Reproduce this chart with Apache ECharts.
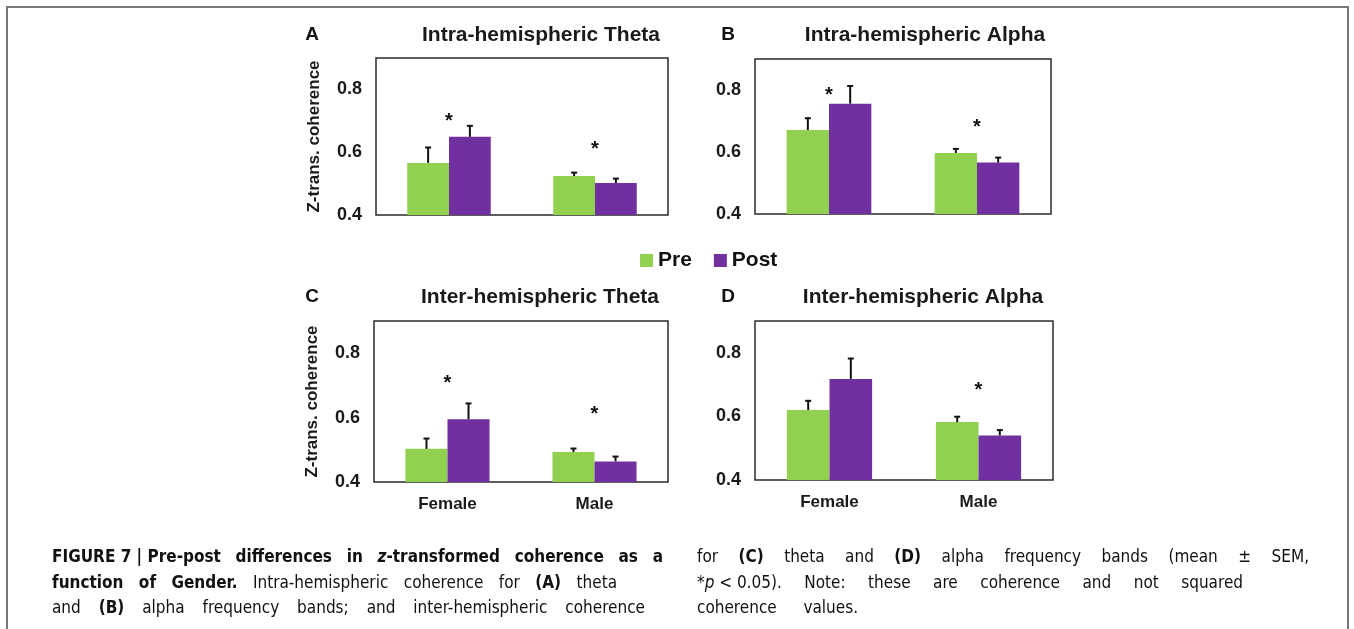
<!DOCTYPE html>
<html>
<head>
<meta charset="utf-8">
<script src="https://cdn.jsdelivr.net/npm/echarts@6/dist/echarts.min.js"></script>
<style>
html,body{margin:0;padding:0;background:#fff;}
#chart{width:1354px;height:629px;}
</style>
</head>
<body>
<div id="chart"></div>
<script>
// ---------------- DATA ----------------
const categories = ['Female', 'Male'];
const seriesNames = ['Pre', 'Post'];
const yTicks = [0.4, 0.6, 0.8];

const panelTitles = ['Intra-hemispheric Theta', 'Intra-hemispheric Alpha', 'Inter-hemispheric Theta', 'Inter-hemispheric Alpha'];
const panelLetters = ['A', 'B', 'C', 'D'];
const yAxisName = 'Z-trans. coherence';

// means
const intraThetaPre  = [0.566, 0.524];
const intraThetaPost = [0.649, 0.502];
const intraAlphaPre  = [0.671, 0.597];
const intraAlphaPost = [0.756, 0.566];
const interThetaPre  = [0.503, 0.493];
const interThetaPost = [0.595, 0.464];
const interAlphaPre  = [0.620, 0.582];
const interAlphaPost = [0.718, 0.540];

// SEM (upper error bar length)
const intraThetaPreSem  = [0.049, 0.011];
const intraThetaPostSem = [0.035, 0.014];
const intraAlphaPreSem  = [0.038, 0.013];
const intraAlphaPostSem = [0.057, 0.016];
const interThetaPreSem  = [0.032, 0.011];
const interThetaPostSem = [0.049, 0.015];
const interAlphaPreSem  = [0.029, 0.017];
const interAlphaPostSem = [0.064, 0.017];

// significance asterisk heights (null = none)
const intraThetaStar = [0.714, 0.623];
const intraAlphaStar = [0.799, 0.696];
const interThetaStar = [0.721, 0.624];
const interAlphaStar = [null, 0.698];

// caption
const captionLeft = [
  [['b', 'FIGURE\u00a07\u00a0|\u00a0Pre-post differences in '], ['bi', 'z'], ['b', '-transformed coherence as a']],
  [['b', 'function of Gender.'], ['n', ' Intra-hemispheric coherence for '], ['b', '(A)'], ['n', ' theta']],
  [['n', 'and '], ['b', '(B)'], ['n', ' alpha frequency bands; and inter-hemispheric coherence']]
];
const captionRight = [
  [['n', 'for '], ['b', '(C)'], ['n', ' theta and '], ['b', '(D)'], ['n', ' alpha frequency bands (mean \u00b1 SEM,']],
  [['n', '*'], ['i', 'p'], ['n', '\u00a0<\u00a00.05). Note: these are coherence and not squared']],
  [['n', 'coherence values.']]
];

// ---------------- LAYOUT ----------------
const panels = [
  {pre: intraThetaPre, post: intraThetaPost, preSem: intraThetaPreSem, postSem: intraThetaPostSem, star: intraThetaStar,
   grid: {left: 376, top: 58, width: 292, height: 157}, showCat: false, showName: true,
   titleX: 541, titleY: 35, letterX: 312, letterY: 35},
  {pre: intraAlphaPre, post: intraAlphaPost, preSem: intraAlphaPreSem, postSem: intraAlphaPostSem, star: intraAlphaStar,
   grid: {left: 755, top: 59, width: 296, height: 155}, showCat: false, showName: false,
   titleX: 925, titleY: 35, letterX: 728, letterY: 35},
  {pre: interThetaPre, post: interThetaPost, preSem: interThetaPreSem, postSem: interThetaPostSem, star: interThetaStar,
   grid: {left: 374, top: 321, width: 294, height: 161}, showCat: true, showName: true,
   titleX: 540, titleY: 297, letterX: 312, letterY: 297},
  {pre: interAlphaPre, post: interAlphaPost, preSem: interAlphaPreSem, postSem: interAlphaPostSem, star: interAlphaStar,
   grid: {left: 755, top: 321, width: 298, height: 159}, showCat: true, showName: false,
   titleX: 923, titleY: 297, letterX: 728, letterY: 297}
];

const PRE_COLOR = '#92D050';
const POST_COLOR = '#7030A0';
const BAR_FRAC = 0.286;
const AXIS_FONT = '"Liberation Sans", Arial, sans-serif';
const CAP_FONT = '"Liberation Sans Narrow", "DejaVu Sans Condensed", sans-serif';

const grids = [], xAxes = [], yAxes = [], series = [], graphics = [];

panels.forEach((p, i) => {
  grids.push(Object.assign({show: true, borderColor: '#2a2a2a', borderWidth: 1.5, backgroundColor: 'transparent'}, p.grid));
  xAxes.push({
    type: 'category', gridIndex: i, data: categories,
    axisLine: {show: false}, axisTick: {show: false},
    axisLabel: {show: p.showCat, fontFamily: AXIS_FONT, fontWeight: 'bold', fontSize: 17, color: '#1a1a1a', margin: 14}
  });
  yAxes.push({
    type: 'value', gridIndex: i, min: 0.4, max: 0.9, interval: 0.2,
    splitLine: {show: false}, axisLine: {show: false}, axisTick: {show: false},
    axisLabel: {
      fontFamily: AXIS_FONT, fontWeight: 'bold', fontSize: 18, color: '#1a1a1a', margin: 14,
      formatter: v => { const t = yTicks.find(k => Math.abs(k - v) < 1e-6); return t === undefined ? '' : t.toFixed(1); }
    },
    name: p.showName ? yAxisName : '', nameLocation: 'middle', nameGap: 53, nameRotate: 90,
    nameTextStyle: {fontFamily: AXIS_FONT, fontWeight: 'bold', fontSize: 17, color: '#1a1a1a'}
  });
  series.push({
    name: 'Pre', type: 'bar', xAxisIndex: i, yAxisIndex: i, data: p.pre,
    barWidth: (BAR_FRAC * 100) + '%', barGap: '0%', itemStyle: {color: PRE_COLOR}, silent: true
  });
  series.push({
    name: 'Post', type: 'bar', xAxisIndex: i, yAxisIndex: i, data: p.post,
    barWidth: (BAR_FRAC * 100) + '%', barGap: '0%', itemStyle: {color: POST_COLOR}, silent: true
  });
  // error bars
  const errData = [];
  categories.forEach((c, k) => {
    errData.push([k, p.pre[k], p.preSem[k], -1]);
    errData.push([k, p.post[k], p.postSem[k], 1]);
  });
  series.push({
    type: 'custom', xAxisIndex: i, yAxisIndex: i, z: 5, silent: true,
    encode: {x: 0, y: 1},
    data: errData,
    renderItem: (params, api) => {
      const k = api.value(0), m = api.value(1), s = api.value(2), side = api.value(3);
      const bw = api.size([1, 0])[0] * BAR_FRAC;
      const base = api.coord([k, m]);
      const top = api.coord([k, m + s]);
      const x = base[0] + side * bw / 2;
      return {
        type: 'group',
        children: [
          {type: 'line', shape: {x1: x, y1: base[1], x2: x, y2: top[1]}, style: {stroke: '#111', lineWidth: 2}},
          {type: 'line', shape: {x1: x - 3, y1: top[1], x2: x + 3, y2: top[1]}, style: {stroke: '#111', lineWidth: 2}}
        ]
      };
    }
  });
  // asterisks
  const starData = [];
  p.star.forEach((v, k) => { if (v !== null) starData.push([k, v]); });
  series.push({
    type: 'custom', xAxisIndex: i, yAxisIndex: i, z: 6, silent: true,
    encode: {x: 0, y: 1},
    data: starData,
    renderItem: (params, api) => {
      const pt = api.coord([api.value(0), api.value(1)]);
      return {
        type: 'text',
        style: {text: '*', x: pt[0], y: pt[1] + 5, textAlign: 'center', textVerticalAlign: 'middle',
                font: 'bold 20px ' + AXIS_FONT, fill: '#111'}
      };
    }
  });
  // titles & letters
  graphics.push({type: 'text', style: {text: panelTitles[i], x: p.titleX, y: p.titleY, textAlign: 'center', textVerticalAlign: 'middle',
    font: 'bold 21px ' + AXIS_FONT, fill: '#1a1a1a'}});
  graphics.push({type: 'text', style: {text: panelLetters[i], x: p.letterX, y: p.letterY, textAlign: 'center', textVerticalAlign: 'middle',
    font: 'bold 19px ' + AXIS_FONT, fill: '#111'}});
});

// outer frame
graphics.push({type: 'rect', shape: {x: 7, y: 7, width: 1341, height: 700}, style: {fill: 'none', stroke: '#777', lineWidth: 2}, z: -1});

// caption, justified word by word
const measureCtx = document.createElement('canvas').getContext('2d');
function fontFor(s) {
  const w = (s === 'b' || s === 'bi') ? 'bold ' : '';
  const it = (s === 'i' || s === 'bi') ? 'italic ' : '';
  return it + w + '17px ' + CAP_FONT;
}
function tokenize(runs) {
  const words = []; let cur = [];
  runs.forEach(([s, t]) => {
    const parts = t.split(' ');
    parts.forEach((pt, j) => {
      if (j > 0) { if (cur.length) words.push(cur); cur = []; }
      if (pt) cur.push([s, pt.replace(/\u00a0/g, ' ')]);
    });
  });
  if (cur.length) words.push(cur);
  return words;
}
function layoutLine(runs, x0, x1, y) {
  const words = tokenize(runs);
  const widths = words.map(w => w.reduce((a, [s, t]) => { measureCtx.font = fontFor(s); return a + measureCtx.measureText(t).width; }, 0));
  const total = widths.reduce((a, b) => a + b, 0);
  const gap = words.length > 1 ? (x1 - x0 - total) / (words.length - 1) : 0;
  let x = x0;
  words.forEach((w, wi) => {
    w.forEach(([s, t]) => {
      measureCtx.font = fontFor(s);
      graphics.push({type: 'text', style: {text: t, x: x, y: y, textAlign: 'left', textVerticalAlign: 'middle', font: fontFor(s), fill: '#111'}});
      x += measureCtx.measureText(t).width;
    });
    x += gap;
  });
}
const capY = [558, 584, 609];
const leftEnds = [663, 617, 645];
const rightEnds = [1309, 1243, 858];
captionLeft.forEach((l, j) => layoutLine(l, 52, leftEnds[j], capY[j]));
captionRight.forEach((l, j) => layoutLine(l, 697, rightEnds[j], capY[j]));

const chart = echarts.init(document.getElementById('chart'), null, {renderer: 'canvas'});
chart.setOption({
  animation: false,
  backgroundColor: '#fff',
  grid: grids,
  xAxis: xAxes,
  yAxis: yAxes,
  legend: {
    data: seriesNames, left: 635, top: 245, icon: 'rect', itemWidth: 13, itemHeight: 13, itemGap: 22,
    textStyle: {fontFamily: AXIS_FONT, fontWeight: 'bold', fontSize: 21, color: '#111'}
  },
  series: series,
  graphic: {elements: graphics}
});
</script>
</body>
</html>
